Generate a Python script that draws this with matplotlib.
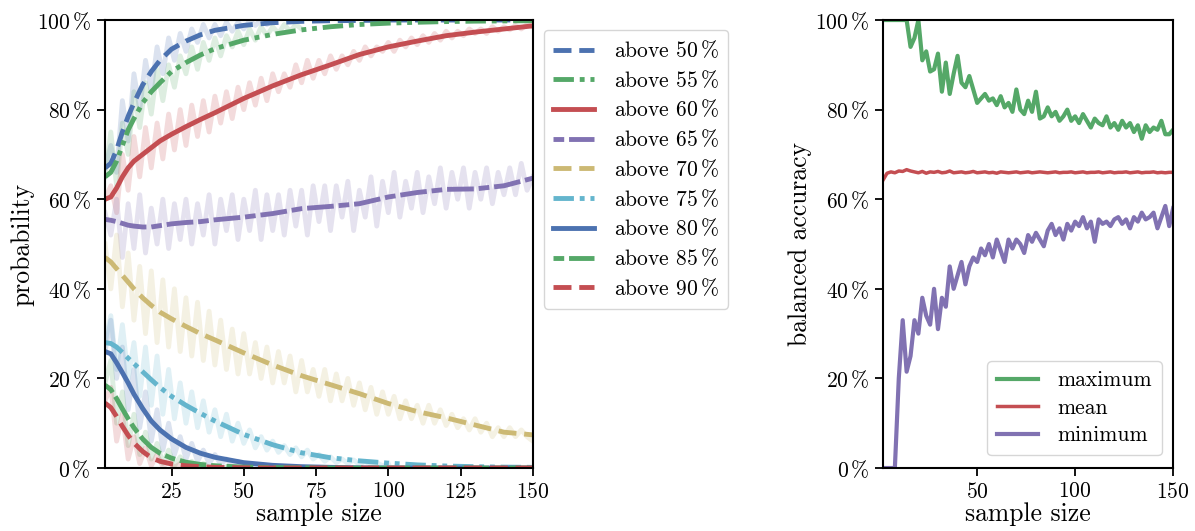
import matplotlib
matplotlib.use('Agg')
import matplotlib.pyplot as plt
from matplotlib.ticker import FuncFormatter
import numpy as np

plt.rcParams['font.family'] = ['cmr10', 'DejaVu Serif']
plt.rcParams['mathtext.fontset'] = 'cm'
plt.rcParams['axes.formatter.use_mathtext'] = True
plt.rcParams['axes.unicode_minus'] = False

# colours (seaborn deep)
blue, green, red, purple, yellow, cyan = '#4C72B0', '#55A868', '#C44E52', '#8172B2', '#CCB974', '#64B5CD'

thresholds = [50, 55, 60, 65, 70, 75, 80, 85, 90]

# smoothed probability curves
x_smooth = [2, 4, 6, 8, 10, 12, 15, 18, 21, 25, 30, 35, 40, 50, 60, 70, 80, 90, 100, 110, 120, 130, 140, 150]
p50 = [67, 68, 71, 75, 78.5, 81.5, 85.5, 88.5, 91, 93.5, 95.3, 96.7, 97.7, 98.8, 99.4, 99.7, 99.85, 99.9, 100, 100, 100, 100, 100, 100]
p55 = [65, 66, 68.5, 72, 75.5, 78, 81.5, 84, 86, 88.5, 90.5, 92.2, 93.6, 95.5, 96.8, 97.8, 98.5, 99, 99.3, 99.5, 99.65, 99.75, 99.8, 99.85]
p60 = [60, 60.5, 62.5, 65, 67, 68.5, 70, 71.5, 73, 74.5, 76.2, 77.8, 79.3, 82.5, 85.3, 87.8, 90, 92.3, 94, 95.3, 96.5, 97.3, 98, 98.7]
p65 = [55.5, 55.3, 55, 54.6, 54.2, 54, 53.8, 53.8, 54.1, 54.5, 54.8, 55, 55.4, 56, 56.8, 57.9, 58.4, 59, 60.5, 61.5, 62.2, 62.3, 63, 64.7]
p70 = [47, 46, 44.5, 43, 41.5, 40, 38, 36.3, 34.8, 33.3, 31.6, 30, 28.6, 25.7, 23, 20.6, 18.6, 16.6, 14.4, 12.6, 11.2, 9.6, 8, 7.4]
p75 = [28, 27.8, 27, 25.8, 24.5, 23.3, 21.5, 19.7, 18, 16, 14, 12.2, 10.5, 7.5, 5.2, 3.4, 2.3, 1.6, 1.1, 0.7, 0.45, 0.3, 0.2, 0.15]
p80 = [26, 25.5, 23.5, 21.3, 19, 16.5, 13.3, 10.5, 8.5, 6.5, 4.6, 3.3, 2.4, 1.2, 0.6, 0.3, 0.15, 0.05, 0, 0, 0, 0, 0, 0]
p85 = [18.5, 17.5, 15.5, 13.2, 11, 9, 6.5, 4.6, 3.3, 2.2, 1.3, 0.8, 0.5, 0.2, 0.1, 0.05, 0, 0, 0, 0, 0, 0, 0, 0]
p90 = [14.5, 13.5, 11.5, 9.3, 7.3, 5.6, 3.7, 2.3, 1.5, 0.9, 0.5, 0.3, 0.15, 0.05, 0, 0, 0, 0, 0, 0, 0, 0, 0, 0]

# raw (unsmoothed) probabilities, every second sample size from 2
r50 = [67, 72, 66, 82, 73, 88, 80, 91, 84, 94, 88, 96, 91, 97, 93, 98, 95, 99, 96, 99, 96.5, 99.5, 97.5, 99.5, 98, 99.8, 98.8, 100, 99, 100]
r55 = [65, 75, 63, 77, 70, 84, 76, 86, 79, 89, 82, 90, 85, 92, 88, 94, 89, 95, 91, 96, 92, 96.5, 94, 97.5, 94.5, 98, 95.5, 98.5, 96.5, 98.5,
       97, 99, 97.5, 99, 98]
r60 = [60, 63, 57, 70, 62, 74, 65, 76, 67, 77, 69, 79, 71, 80, 72, 81, 74, 82, 75, 83, 77, 84, 78, 85, 80, 86, 81, 87, 82, 88,
       84, 88, 85, 90, 86, 91, 87, 91, 88, 92, 89, 92, 90, 93, 91, 94, 92, 94, 93, 95, 93, 95.5, 94, 96, 94.5, 96.5, 95, 97, 95.5, 97.5,
       96, 97.5, 96.5, 98, 97, 98, 97, 98.5, 97.5, 98.5, 97.8, 98.8, 98, 99, 98.5]
r65 = [57, 52, 60, 47, 59, 49, 61, 48, 58, 50, 60, 49, 59, 51, 60, 50, 59, 52, 61, 50, 60, 53, 61, 51, 60, 53, 62, 51, 61, 53,
       61, 52, 62, 54, 62, 52, 63, 55, 63, 53, 63, 56, 64, 53, 62, 56, 65, 54, 64, 57, 66, 56, 64, 58, 66, 57, 65, 59, 67, 58,
       66, 60, 67, 58, 66, 60, 67, 59, 66, 61, 67, 61, 68, 62, 65]
r70 = [50, 40, 52, 36, 48, 33, 45, 30, 44, 28, 42, 27, 40, 26, 38, 25, 37, 24, 35, 23, 33, 22, 31, 21, 30, 21, 28, 20, 27, 19,
       26, 19, 25, 17, 24, 17, 22, 16, 22, 15, 21, 15, 20, 14, 19, 13, 18, 12, 17, 12, 16, 11, 15, 11, 14, 10, 14, 10, 13, 9.5,
       12, 9, 11, 8.5, 11, 8, 10, 7, 9, 7, 9, 7, 8.5, 7, 6]
r75 = [28, 34, 22, 32, 20, 28, 16, 27, 14, 25, 12, 22, 11, 19, 10, 17, 9, 15, 8, 13, 7, 12, 6, 10, 5.5, 8.5, 4.5, 7, 4, 6,
       3.5, 5, 3, 4.5, 2.5, 4, 2, 3, 1.5, 2.5, 1.2, 2, 1, 1.8, 0.8, 1.5, 0.6, 1.2, 0.5, 1]
r80 = [26, 33, 20, 27, 13, 22, 9, 17, 6, 13, 4, 10, 3, 7, 2, 5.5, 1.5, 4, 1, 3, 0.8, 2, 0.5, 1.5, 0.3, 1, 0.2, 0.6, 0.1, 0.4]
r85 = [19, 24, 10, 17, 5, 12, 3, 8, 2, 5.5, 1, 4, 0.5, 2.5, 0.3, 1.5, 0.2, 1, 0.1, 0.6, 0, 0.3, 0, 0.2, 0]
r90 = [15, 18, 6, 12, 2, 7, 1, 4.5, 0.5, 3, 0.3, 1.5, 0.1, 1, 0, 0.5, 0, 0.3, 0, 0]

# balanced accuracy over repetitions, every second sample size from 2
acc_max = [100, 100, 100, 100, 100, 100, 100, 94, 96, 100, 91, 93, 88.5, 89, 92.5, 84, 90.5, 83.5, 88, 92,
           86, 85, 87.5, 84.5, 81.5, 82.5, 83.5, 82, 82.5, 81, 83, 80.5, 81.5, 79.5, 84.5, 80, 79, 82, 79.5, 84,
           78, 78.5, 80.5, 78.5, 79.5, 77.5, 78.5, 80, 77.5, 78.5, 77, 79, 77.5, 76, 78, 77, 76.5, 78.5, 76, 77,
           75.5, 77.5, 76, 77, 75, 76.5, 73.5, 76.5, 75, 76, 75.5, 77.5, 74.5, 74.5, 75.5]
acc_mean = [64.3, 65.8, 66.1, 65.9, 66.3, 66.2, 66.6, 66.3, 66.1, 65.9, 66.2, 65.8, 66.1, 66.0, 66.2, 65.9, 66.0, 66.3, 65.9, 66.0,
            66.1, 65.9, 66.0, 66.2, 65.9, 66.0, 66.1, 65.9, 66.0, 65.8, 66.1, 66.0, 65.9, 66.0, 66.1, 65.9, 66.0, 66.1, 65.9, 66.0,
            66.1, 66.0, 65.9, 66.0, 66.1, 65.9, 66.0, 66.0, 66.1, 65.9, 66.0, 66.1, 65.9, 66.0, 66.0, 66.1, 65.9, 66.0, 66.1, 65.9,
            66.0, 66.0, 66.1, 65.9, 66.0, 66.1, 65.9, 66.0, 66.0, 66.1, 65.9, 66.0, 65.9, 66.0, 66.0]
acc_min = [0, 0, 0, 0, 20, 33, 21.5, 25, 33, 30, 38, 34, 32, 40, 31, 38, 36, 45, 40, 43,
           46, 41, 45, 47, 46, 49, 47.5, 50, 47, 51, 48.5, 46, 51, 49, 51, 50, 48, 52, 50.5, 52.5,
           51, 49.5, 53, 54.5, 52, 53.5, 51, 54.5, 53, 55, 54, 56, 53.5, 55, 50.5, 55.5, 54.5, 55, 54, 55.5,
           56, 54.5, 55.5, 53.5, 56, 55, 57, 55.5, 56, 57, 53.5, 56, 58.5, 54, 58]

smooth = [p50, p55, p60, p65, p70, p75, p80, p85, p90]
raw = [r50, r55, r60, r65, r70, r75, r80, r85, r90]
colors = [blue, green, red, purple, yellow, cyan]
styles = [(0, (3.7, 1.6)), (0, (4.2, 1.2, 1, 1.2, 1, 1.2)), '-', (0, (2.2, 1, 5.5, 1))]

fig = plt.figure(figsize=(11.95, 5.31), dpi=100)
ax1 = fig.add_axes([0.0879, 0.1186, 0.358, 0.8437])
ax2 = fig.add_axes([0.739, 0.1186, 0.2427, 0.8437])

pct = FuncFormatter(lambda v, pos: r'$%d\,\%%$' % v)
fs = 15.5
lfs = 18.5

for i, t in enumerate(thresholds):
    c = colors[i % 6]
    xr = np.arange(2, 2 + 2 * len(raw[i]), 2)
    ax1.plot(xr, raw[i], color=c, alpha=0.2, lw=3.5, zorder=1)
for i, t in enumerate(thresholds):
    c = colors[i % 6]
    ax1.plot(x_smooth, smooth[i], color=c, lw=3.5, linestyle=styles[i % 4], zorder=2,
             label=r'above $%d\,\%%$' % t)

ax1.set_xlim(2, 150)
ax1.set_ylim(0, 100)
ax1.set_xticks([25, 50, 75, 100, 125, 150])
ax1.set_yticks([0, 20, 40, 60, 80, 100])
ax1.yaxis.set_major_formatter(pct)
ax1.set_xlabel('sample size', fontsize=lfs, labelpad=0)
ax1.set_ylabel('probability', fontsize=lfs, labelpad=2)
ax1.legend(loc='upper left', bbox_to_anchor=(0.455, 0.944), bbox_transform=fig.transFigure,
           borderaxespad=0, fontsize=fs, handlelength=1.9, labelspacing=0.37, borderpad=0.45,
           handletextpad=0.9)

xa = np.arange(2, 2 + 2 * len(acc_max), 2)
ax2.plot(xa, acc_max, color=green, lw=3, label='maximum')
ax2.plot(xa, acc_mean, color=red, lw=2.5, label='mean')
ax2.plot(xa, acc_min, color=purple, lw=3, label='minimum')
ax2.set_xlim(2, 150)
ax2.set_ylim(0, 100)
ax2.set_xticks([50, 100, 150])
ax2.set_yticks([0, 20, 40, 60, 80, 100])
ax2.yaxis.set_major_formatter(pct)
ax2.set_xlabel('sample size', fontsize=lfs, labelpad=0)
ax2.set_ylabel('balanced accuracy', fontsize=lfs, labelpad=2)
ax2.legend(loc='lower right', bbox_to_anchor=(0.972, 0.143), bbox_transform=fig.transFigure,
           borderaxespad=0, fontsize=fs, handlelength=1.9, labelspacing=0.37, borderpad=0.45,
           handletextpad=0.9)

for ax in (ax1, ax2):
    ax.tick_params(labelsize=fs, direction='out', length=6, width=1.3, pad=4)
    for s in ax.spines.values():
        s.set_linewidth(1.5)
        s.set_zorder(5)

fig.savefig('out.png', dpi=100)
